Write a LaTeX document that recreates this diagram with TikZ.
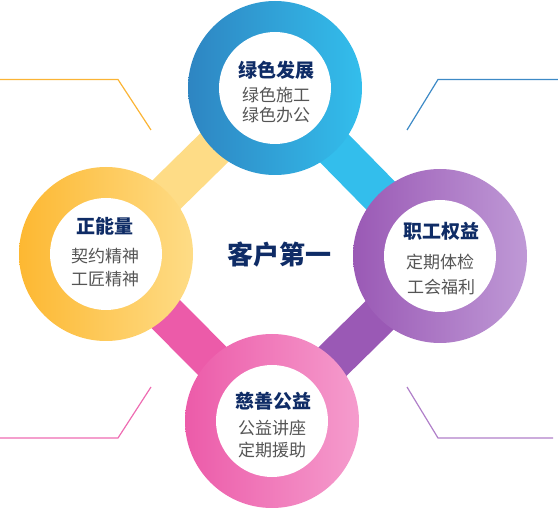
\documentclass[tikz,border=0pt]{standalone}
\usepackage{fontspec}
\setmainfont{Noto Sans CJK SC}
\usepackage{xcolor}
\usepackage{tikz}
\usetikzlibrary{positioning, calc}
\definecolor{blueL}{HTML}{2E85C2}
\definecolor{blueR}{HTML}{33BEEC}
\definecolor{yellowL}{HTML}{FDB832}
\definecolor{yellowR}{HTML}{FEDC86}
\definecolor{purpleL}{HTML}{9A59B5}
\definecolor{purpleR}{HTML}{BF99D6}
\definecolor{pinkL}{HTML}{EC5BA9}
\definecolor{pinkR}{HTML}{F59CCD}
\definecolor{navy}{HTML}{0F2C66}
\definecolor{txtgray}{HTML}{555555}
\definecolor{lineorange}{HTML}{FBB435}
\definecolor{lineblue}{HTML}{3D8AC6}
\definecolor{linepink}{HTML}{EE6CB2}
\definecolor{linepurple}{HTML}{B07FC9}

\begin{document}
\begin{tikzpicture}[
    x=1pt, y=-1pt,
    every node/.style={inner sep=0pt},
    title/.style={font=\fontsize{19}{21}\selectfont\bfseries, text=navy},
    item/.style={font=\fontsize{17}{19}\selectfont, text=txtgray},
    handle/.style={line width=40pt},
    corner/.style={line width=1.2pt},
]
\def\Rout{87pt}
\def\Rin{56pt}
\useasboundingbox (0,0) rectangle (558,508);

\coordinate (figC) at (273,255);
\coordinate (cT)   at (275,88);
\coordinate (cL)   at (106,254);
\coordinate (cR)   at (440,256);
\coordinate (cB)   at (272,421);

% corner lines
\draw[corner, lineorange] (0,79.5) -- (118,79.5) -- (151,130);
\draw[corner, lineblue]   (558,79.5) -- (438,79.5) -- (407,130);
\draw[corner, linepink]   (0,438) -- (118,438) -- (151,387);
\draw[corner, linepurple] (553,438) -- (438,438) -- (407,387);

% handles
\draw[handle, yellowR] (cL) -- (cT);
\draw[handle, blueR]   (cT) -- (cR);
\draw[handle, purpleL] (cR) -- (cB);
\draw[handle, pinkL]   (cB) -- (cL);

% rings
\shade[left color=blueL, right color=blueR]     (cT) circle (\Rout);
\shade[left color=yellowL, right color=yellowR] (cL) circle (\Rout);
\shade[left color=purpleL, right color=purpleR] (cR) circle (\Rout);
\shade[left color=pinkL, right color=pinkR]     (cB) circle (\Rout);
\foreach \c in {cT, cL, cR, cB}
    \fill[white] (\c) circle (\Rin);

% texts
\node[font=\fontsize{26}{28}\selectfont\bfseries, text=navy]
    (center) at ($(figC)+(6,0)$) {客户第一};

\node[title] (tT)  at ($(cT)+(1,-18)$) {绿色发展};
\node[item]  (tT1) at ($(cT)+(1,7)$)   {绿色施工};
\node[item]  (tT2) at ($(cT)+(1,27)$)  {绿色办公};

\node[title] (tL)  at ($(cL)+(-1,-28)$) {正能量};
\node[item]  (tL1) at ($(cL)+(-1,2)$)   {契约精神};
\node[item]  (tL2) at ($(cL)+(-1,25)$)  {工匠精神};

\node[title] (tR)  at ($(cR)+(1,-25)$) {职工权益};
\node[item]  (tR1) at ($(cR)+(0,6)$)   {定期体检};
\node[item]  (tR2) at ($(cR)+(1,31)$)  {工会福利};

\node[title] (tB)  at ($(cB)+(1,-20)$) {慈善公益};
\node[item]  (tB1) at ($(cB)+(0,7)$)   {公益讲座};
\node[item]  (tB2) at ($(cB)+(0,29)$)  {定期援助};
\end{tikzpicture}
\end{document}
